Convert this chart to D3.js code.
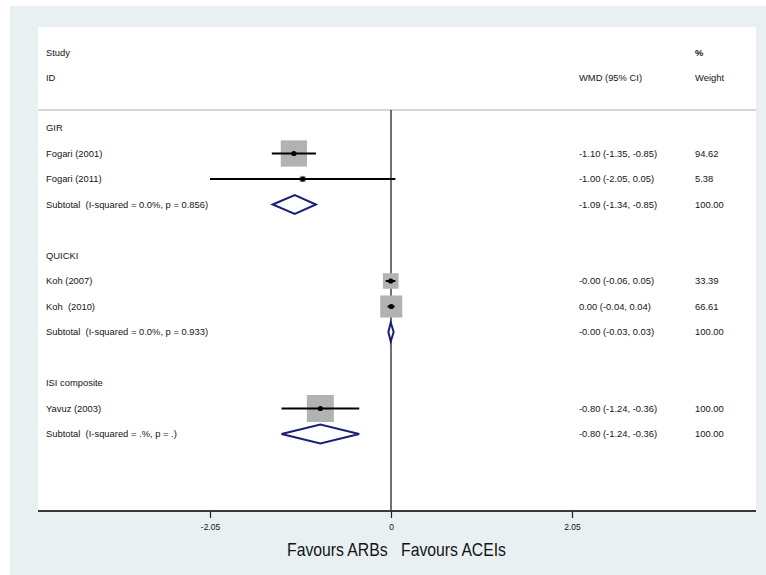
<!DOCTYPE html>
<html>
<head>
<meta charset="utf-8">
<script src="https://cdn.jsdelivr.net/npm/d3@7"></script>
<style>
  html, body { margin: 0; padding: 0; background: #ffffff; }
  svg { display: block; }
  text { font-family: "Liberation Sans", Arial, sans-serif; fill: #141414; white-space: pre; }
</style>
</head>
<body>
<script>
// ---------- data ----------
const rowLabels = [
  "GIR", "Fogari (2001)", "Fogari (2011)", "Subtotal  (I-squared = 0.0%, p = 0.856)", "",
  "QUICKI", "Koh (2007)", "Koh  (2010)", "Subtotal  (I-squared = 0.0%, p = 0.933)", "",
  "ISI composite", "Yavuz (2003)", "Subtotal  (I-squared = .%, p = .)"
];
// row kinds: h = group header, s = study, t = subtotal, b = blank
const rowKinds = ["h","s","s","t","b","h","s","s","t","b","h","s","t"];
const estimates = [null, -1.10, -1.00, -1.09, null, null, -0.003, 0.003, -0.003, null, null, -0.80, -0.80];
const lowerCI   = [null, -1.35, -2.05, -1.34, null, null, -0.06, -0.04, -0.03, null, null, -1.24, -1.24];
const upperCI   = [null, -0.85,  0.05, -0.85, null, null,  0.05,  0.04,  0.03, null, null, -0.36, -0.36];
const weights   = [null, 94.62, 5.38, 100.00, null, null, 33.39, 66.61, 100.00, null, null, 100.00, 100.00];
const tickValues = [-2.05, 0, 2.05];
const tickLabels = ["-2.05", "0", "2.05"];
const headerLeft = ["Study", "ID"];
const headerEffect = "WMD (95% CI)";
const headerWeight = ["%", "Weight"];
const favoursLeft = "Favours ARBs";
const favoursRight = "Favours ACEIs";

// ---------- layout ----------
const W = 766, H = 575;
const panel = { x0: 38, x1: 756, y0: 27, y1: 511 };
const sepY = 110;
const colEffect = 579, colWeight = 695, colLabel = 46;
const fs = 9.4;

const svg = d3.select("body").append("svg").attr("width", W).attr("height", H);

// backgrounds
svg.append("rect").attr("x", 10).attr("y", 6).attr("width", W - 10).attr("height", H - 6).attr("fill", "#e9f0f2");
svg.append("rect").attr("x", panel.x0).attr("y", panel.y0)
  .attr("width", panel.x1 - panel.x0).attr("height", panel.y1 - panel.y0).attr("fill", "#ffffff");

// scales
const x = d3.scaleLinear().domain([-2.05, 2.05]).range([210, 572]);
const y = d3.scalePoint().domain(d3.range(rowLabels.length)).range([128, 434]);

// header
const hdr = svg.append("g").attr("font-size", fs);
hdr.append("text").attr("x", colLabel).attr("y", 53).attr("dy", "0.35em").text(headerLeft[0]);
hdr.append("text").attr("x", colLabel).attr("y", 78).attr("dy", "0.35em").text(headerLeft[1]);
hdr.append("text").attr("x", colEffect).attr("y", 78).attr("dy", "0.35em").text(headerEffect);
hdr.append("text").attr("x", colWeight).attr("y", 53).attr("dy", "0.35em").attr("font-weight", "bold").text(headerWeight[0]);
hdr.append("text").attr("x", colWeight).attr("y", 78).attr("dy", "0.35em").text(headerWeight[1]);

// separator
svg.append("line").attr("x1", panel.x0).attr("x2", panel.x1).attr("y1", sepY).attr("y2", sepY)
  .attr("stroke", "#c9c9c9").attr("stroke-width", 1.5);

// null line
svg.append("line").attr("x1", x(0)).attr("x2", x(0)).attr("y1", sepY).attr("y2", panel.y1)
  .attr("stroke", "#111").attr("stroke-width", 1.2);

const rows = rowLabels.map((l, i) => ({ i, label: l, kind: rowKinds[i], est: estimates[i], lo: lowerCI[i], hi: upperCI[i], w: weights[i] }));

// labels
svg.append("g").attr("font-size", fs).selectAll("text").data(rows.filter(r => r.kind !== "b")).join("text")
  .attr("x", colLabel).attr("y", r => y(r.i)).attr("dy", "0.35em").text(r => r.label);

const dataRows = rows.filter(r => r.kind === "s" || r.kind === "t");
svg.append("g").attr("font-size", fs).selectAll("text").data(dataRows).join("text")
  .attr("x", colEffect).attr("y", r => y(r.i)).attr("dy", "0.35em")
  .text(r => `${r.est.toFixed(2)} (${r.lo.toFixed(2)}, ${r.hi.toFixed(2)})`);
svg.append("g").attr("font-size", fs).selectAll("text").data(dataRows).join("text")
  .attr("x", colWeight).attr("y", r => y(r.i)).attr("dy", "0.35em")
  .text(r => r.w.toFixed(2));

// studies
const studies = rows.filter(r => r.kind === "s");
const side = d3.scaleSqrt().domain([0, 100]).range([0, 27]);
const gS = svg.append("g");
gS.selectAll("rect").data(studies).join("rect")
  .attr("x", r => x(r.est) - side(r.w) / 2).attr("y", r => y(r.i) - side(r.w) / 2)
  .attr("width", r => side(r.w)).attr("height", r => side(r.w)).attr("fill", "#b2b2b2");
gS.selectAll("line").data(studies).join("line")
  .attr("x1", r => x(r.lo)).attr("x2", r => x(r.hi)).attr("y1", r => y(r.i)).attr("y2", r => y(r.i))
  .attr("stroke", "#000").attr("stroke-width", 2);
gS.selectAll("circle").data(studies).join("circle")
  .attr("cx", r => x(r.est)).attr("cy", r => y(r.i)).attr("r", 2.6).attr("fill", "#000");

// subtotal diamonds
const subs = rows.filter(r => r.kind === "t");
const dh = 9.5;
svg.append("g").selectAll("path").data(subs).join("path")
  .attr("d", r => {
    const cy = y(r.i);
    return `M${x(r.lo)},${cy} L${x(r.est)},${cy - dh} L${x(r.hi)},${cy} L${x(r.est)},${cy + dh} Z`;
  })
  .attr("fill", "#ffffff").attr("stroke", "#1b1f7c").attr("stroke-width", 2).attr("stroke-linejoin", "miter");

// axis
svg.append("line").attr("x1", panel.x0).attr("x2", panel.x1).attr("y1", panel.y1).attr("y2", panel.y1)
  .attr("stroke", "#3a3a3a").attr("stroke-width", 2);
const axis = d3.axisBottom(x).tickValues(tickValues).tickSize(7).tickSizeOuter(0)
  .tickFormat((d, i) => tickLabels[i]);
const gA = svg.append("g").attr("transform", `translate(0,${panel.y1})`).call(axis);
gA.select(".domain").remove();
gA.selectAll(".tick line").attr("stroke", "#222").attr("stroke-width", 1.2);
gA.selectAll(".tick text").attr("font-family", "'Liberation Sans', Arial, sans-serif")
  .attr("font-size", 8.5).attr("fill", "#222").attr("y", 13);

// favours (slightly condensed like the original)
const cx = (285 + 508) / 2;
const fav = svg.append("text").attr("y", 0).attr("dy", "0.35em")
  .attr("font-size", 17.5).attr("text-anchor", "middle").attr("x", 0)
  .attr("transform", `translate(${cx},550) scale(0.9,1)`);
fav.append("tspan").text(favoursLeft);
fav.append("tspan").attr("dx", 15).text(favoursRight);
</script>
</body>
</html>
